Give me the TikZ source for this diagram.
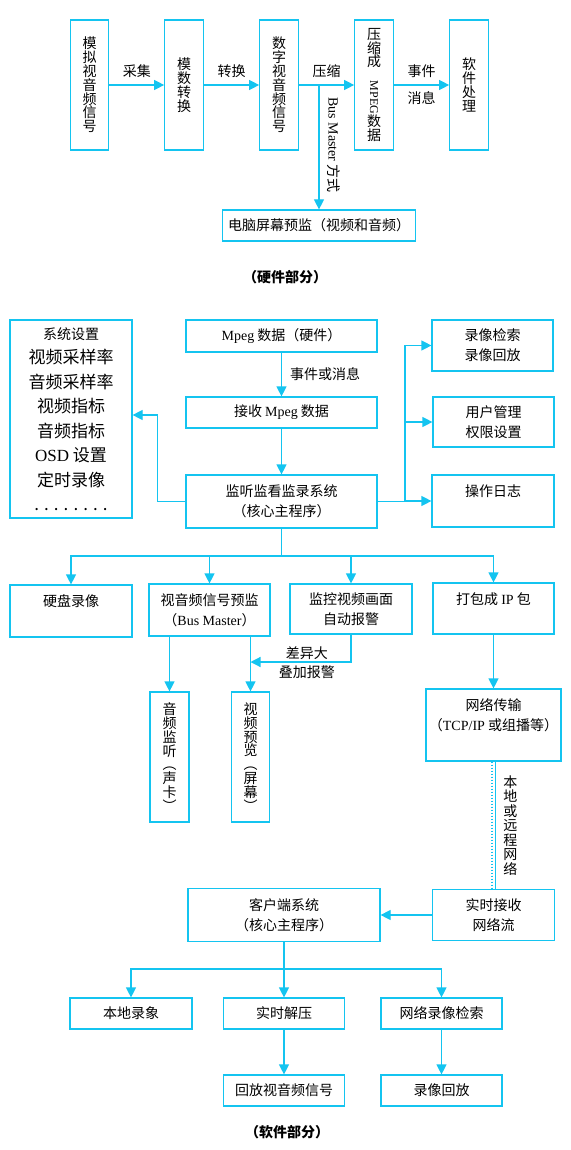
\documentclass[tikz,border=0pt]{standalone}
\usepackage{fontspec}
\setmainfont{Noto Sans CJK SC}
\newfontfamily\lat{Liberation Serif}
\usetikzlibrary{arrows.meta}
\definecolor{lineblue}{RGB}{20,196,240}
\lineskiplimit=-20pt

\begin{document}
\begin{tikzpicture}[x=1pt,y=-1pt,>={Triangle[width=10pt,length=10pt]},
    box/.style={draw=lineblue,line width=1.2pt,align=center,inner sep=0pt,font=\fontsize{14}{20}\selectfont},
    vbox/.style={box,minimum width=38.5pt,minimum height=130pt,font=\fontsize{14}{13.8}\selectfont},
    link/.style={draw=lineblue,line width=1.2pt,->},
    plain/.style={draw=lineblue,line width=1.2pt},
    lab/.style={inner sep=0pt,font=\fontsize{14}{14.5}\selectfont}]
    \useasboundingbox[fill=white] (0,0) rectangle (570,1150);

    % hardware part
    \foreach \i/\x/\txt in {1/89.5/{模\\拟\\视\\音\\频\\信\\号},2/184/{模\\数\\转\\换},3/279/{数\\字\\视\\音\\频\\信\\号},
        4/374/{压\\缩\\成\\\rotatebox{-90}{\lat\fontsize{12}{12}\selectfont MPEG}\\数\\据},5/469/{软\\件\\处\\理}} {
        \node[vbox] (h\i) at (\x,85) {\txt};
    }
    \foreach \a/\b/\t in {1/2/采集,2/3/转换,3/4/压缩} {
        \draw[link] (h\a) -- node[lab,above=7pt] {\t} (h\b);
    }
    \draw[link] (h4) -- node[lab,above=7pt] {事件} node[lab,below=6pt] {消息} (h5);
    \coordinate (bm) at (319,85);
    \node[box,minimum width=193pt,minimum height=31pt] (pc) at (319,225.5) {电脑屏幕预监（视频和音频）};
    \draw[link] (bm) -- (pc);
    \node[lab,rotate=-90] (bmlab) at (334,145) {{\lat Bus Master} 方式};
    \node[lab,font=\fontsize{14}{14}\selectfont\bfseries] (hwtitle) at (285,277) {（硬件部分）};

    % software part
    \node[box,minimum width=191pt,minimum height=32pt] (mpeg) at (281.5,336) {{\lat Mpeg} 数据（硬件）};
    \node[box,minimum width=191pt,minimum height=31pt] (recv) at (281.5,412.5) {接收 {\lat Mpeg} 数据};
    \node[box,minimum width=191pt,minimum height=53pt] (core) at (281.5,501.5) {监听监看监录系统\\（核心主程序）};
    \node[box,minimum width=122pt,minimum height=198pt,font=\fontsize{17}{24.5}\selectfont] (setup) at (71,419)
        {{\fontsize{14}{14}\selectfont 系统设置}\\视频采样率\\音频采样率\\视频指标\\音频指标\\{\lat OSD} 设置\\定时录像\\. . . . . . . .};
    \node[box,minimum width=121pt,minimum height=51pt] (search) at (492.5,345.5) {录像检索\\录像回放};
    \node[box,minimum width=121pt,minimum height=50pt] (user) at (493.5,422) {用户管理\\权限设置};
    \node[box,minimum width=122pt,minimum height=52pt] (log) at (493,501) {操作日志\\\mbox{}};

    \draw[link] (mpeg) -- node[lab,right=8pt] {事件或消息} (recv);
    \draw[link] (recv) -- (core);
    \draw[link] (core.west) -- ++(-28,0) |- ([yshift=4pt]setup.east);
    \coordinate (rb) at (405,501.5);
    \draw[plain] (core) -- (rb);
    \foreach \n in {search,user,log} {
        \draw[link] (rb) |- (\n);
    }

    \node[box,minimum width=122pt,minimum height=52pt] (disk) at (71,611) {硬盘录像\\\mbox{}};
    \node[box,minimum width=121pt,minimum height=52pt] (preview) at (209.5,610) {视音频信号预监\\（{\lat Bus Master}）};
    \node[box,minimum width=122pt,minimum height=50pt] (alarm) at (351,609) {监控视频画面\\自动报警};
    \node[box,minimum width=121pt,minimum height=51pt] (pack) at (493.5,608.5) {打包成 {\lat IP} 包\\\mbox{}};
    \coordinate (sb) at (281.5,556);
    \draw[plain] (core) -- (sb);
    \foreach \n in {disk,preview,alarm,pack} {
        \draw[link] (sb) -| (\n);
    }

    \node[vbox,minimum width=39pt] (audio) at (169.5,757) {音\\频\\监\\听\\︵\\声\\卡\\︶};
    \node[vbox] (video) at (250.5,757) {视\\频\\预\\览\\︵\\屏\\幕\\︶};
    \draw[link] (preview.south -| audio.north) -- (audio);
    \draw[link] (preview.south -| video.north) -- (video);
    \coordinate (join) at (250.5,662);
    \draw[link] (alarm) |- node[lab,pos=0.72,above=2pt] {差异大} node[lab,pos=0.72,below=3pt] {叠加报警} (join);

    \node[box,minimum width=135pt,minimum height=72pt] (net) at (493.5,725) {网络传输\\（{\lat TCP/IP} 或组播等）\\\mbox{}};
    \draw[link] (pack) -- (net);
    \node[box,minimum width=122pt,minimum height=51pt] (rx) at (493.5,915) {实时接收\\网络流};
    \draw[plain,line width=1.4pt] ([xshift=2.2pt]net.south) -- node[lab,right=7pt,align=center] {本\\地\\或\\远\\程\\网\\络} ([xshift=2.2pt]rx.north);
    \draw[lineblue,line width=1.2pt,dash pattern=on 1.5pt off 1.5pt] ([xshift=-1.6pt]net.south) -- ([xshift=-1.6pt]rx.north);

    \node[box,minimum width=192pt,minimum height=53pt] (client) at (284,915) {客户端系统\\（核心主程序）};
    \draw[link] (rx) -- (client);
    \node[box,minimum width=122pt,minimum height=31pt] (local) at (131,1013.5) {本地录象};
    \node[box,minimum width=121pt,minimum height=31pt] (decode) at (284,1013.5) {实时解压};
    \node[box,minimum width=121pt,minimum height=31pt] (nsearch) at (441.5,1013.5) {网络录像检索};
    \coordinate (cb) at (284,969);
    \draw[plain] (client) -- (cb);
    \foreach \n in {local,decode,nsearch} {
        \draw[link] (cb) -| (\n);
    }
    \node[box,minimum width=121pt,minimum height=31pt] (play) at (284,1090.5) {回放视音频信号};
    \node[box,minimum width=121pt,minimum height=31pt] (replay) at (441.5,1090.5) {录像回放};
    \draw[link] (decode) -- (play);
    \draw[link] (nsearch) -- (replay);
    \node[lab,font=\fontsize{14}{14}\selectfont\bfseries] (swtitle) at (287,1132) {（软件部分）};
\end{tikzpicture}
\end{document}
